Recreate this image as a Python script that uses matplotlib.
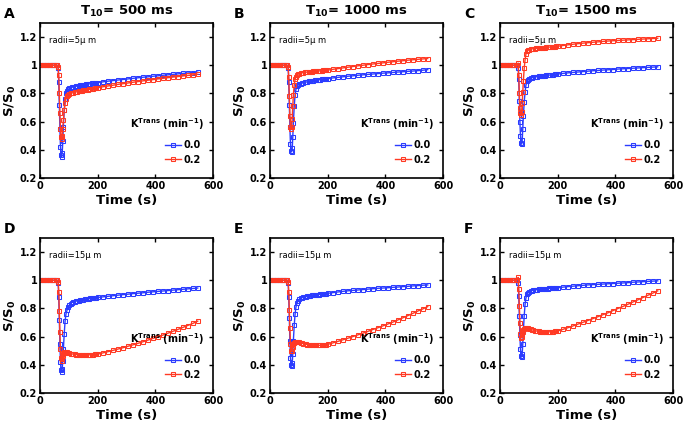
import matplotlib
matplotlib.use('Agg')
import matplotlib.pyplot as plt
from matplotlib.ticker import FuncFormatter

plt.rcParams['font.family'] = ['DejaVu Sans']
plt.rcParams['mathtext.default'] = 'bf'

# sample times (s), shared by every curve
time = [0, 5, 10, 15, 20, 25, 30, 35, 40, 45, 50, 55, 60, 63,
        65, 67, 69, 71, 73, 75, 77, 79, 81, 84, 87, 90, 94, 98, 102, 106, 110,
        115, 120, 125, 130, 135, 140, 145, 150, 155, 160, 165, 170, 175, 180, 185, 190, 195,
        200, 217, 235, 252, 269, 287, 304, 321, 339, 356, 374, 391, 408, 426, 443, 460, 478,
        495, 512, 530, 547]

# S/S0, Ktrans = 0.0 (blue) and 0.2 (red), one pair per panel
a_k00 = [1.0] * 13 + [0.98,
         0.88, 0.72, 0.55, 0.42, 0.36, 0.35, 0.38, 0.46, 0.56, 0.68, 0.76, 0.80, 0.82, 0.83, 0.836, 0.840, 0.843,
         0.846, 0.849, 0.851, 0.853, 0.855, 0.857, 0.859, 0.861, 0.863, 0.864, 0.866, 0.868, 0.869, 0.871, 0.872, 0.874, 0.875,
         0.877, 0.882, 0.887, 0.891, 0.895, 0.899, 0.903, 0.907, 0.911, 0.915, 0.918, 0.922, 0.925, 0.929, 0.932,
         0.935, 0.939, 0.942, 0.945, 0.948, 0.951]
a_k02 = [1.0] * 13 + [0.99,
         0.93, 0.80, 0.66, 0.55, 0.49, 0.48, 0.50, 0.55, 0.61, 0.68, 0.73, 0.76, 0.78, 0.79, 0.796, 0.800, 0.803,
         0.806, 0.809, 0.811, 0.813, 0.815, 0.817, 0.819, 0.821, 0.823, 0.825, 0.827, 0.829, 0.831, 0.833, 0.835, 0.837, 0.839,
         0.841, 0.847, 0.853, 0.858, 0.864, 0.869, 0.874, 0.879, 0.884, 0.889, 0.894, 0.898, 0.903, 0.907, 0.912,
         0.916, 0.920, 0.924, 0.928, 0.932, 0.936]

b_k00 = [1.0] * 13 + [0.98,
         0.88, 0.72, 0.56, 0.44, 0.39, 0.385, 0.41, 0.49, 0.59, 0.71, 0.79, 0.83, 0.85, 0.86, 0.866, 0.870, 0.873,
         0.876, 0.879, 0.881, 0.883, 0.885, 0.887, 0.889, 0.891, 0.893, 0.894, 0.896, 0.897, 0.899, 0.900, 0.901, 0.903, 0.904,
         0.905, 0.910, 0.914, 0.918, 0.922, 0.925, 0.929, 0.932, 0.935, 0.938, 0.941, 0.944, 0.946, 0.949, 0.952,
         0.954, 0.957, 0.959, 0.962, 0.965, 0.969]
b_k02 = [1.0] * 13 + [0.99,
         0.92, 0.78, 0.64, 0.56, 0.545, 0.56, 0.62, 0.71, 0.79, 0.86, 0.90, 0.92, 0.93, 0.937, 0.941, 0.944, 0.946,
         0.948, 0.950, 0.951, 0.952, 0.953, 0.954, 0.955, 0.956, 0.957, 0.958, 0.959, 0.960, 0.961, 0.962, 0.963, 0.964, 0.965,
         0.966, 0.971, 0.976, 0.981, 0.986, 0.991, 0.996, 1.000, 1.005, 1.009, 1.013, 1.017, 1.021, 1.025, 1.029,
         1.032, 1.036, 1.039, 1.042, 1.045, 1.048]

c_k00 = [1.0] * 13 + [0.98,
         0.90, 0.75, 0.60, 0.50, 0.45, 0.44, 0.47, 0.55, 0.64, 0.74, 0.81, 0.86, 0.885, 0.896, 0.903, 0.908, 0.911,
         0.914, 0.916, 0.918, 0.920, 0.921, 0.923, 0.924, 0.925, 0.927, 0.928, 0.929, 0.930, 0.932, 0.933, 0.934, 0.935, 0.936,
         0.938, 0.942, 0.946, 0.949, 0.952, 0.955, 0.958, 0.961, 0.963, 0.966, 0.968, 0.970, 0.973, 0.975, 0.977,
         0.979, 0.981, 0.983, 0.985, 0.987, 0.989]
c_k02 = [1.0] * 12 + [1.005, 1.015,
         0.93, 0.80, 0.70, 0.66, 0.65, 0.67, 0.73, 0.81, 0.89, 0.98, 1.04, 1.08, 1.10, 1.107, 1.111, 1.114, 1.116,
         1.118, 1.119, 1.120, 1.121, 1.122, 1.123, 1.124, 1.125, 1.126, 1.127, 1.128, 1.129, 1.130, 1.131, 1.132, 1.133, 1.134,
         1.135, 1.140, 1.145, 1.149, 1.153, 1.157, 1.160, 1.163, 1.166, 1.169, 1.172, 1.174, 1.176, 1.178, 1.180,
         1.182, 1.184, 1.186, 1.188, 1.190, 1.192]

d_k00 = [1.0] * 13 + [0.98,
         0.88, 0.72, 0.55, 0.42, 0.36, 0.347, 0.37, 0.43, 0.51, 0.62, 0.71, 0.76, 0.79, 0.81, 0.825, 0.835, 0.842,
         0.846, 0.849, 0.852, 0.854, 0.856, 0.858, 0.860, 0.862, 0.864, 0.866, 0.867, 0.869, 0.871, 0.872, 0.874, 0.875, 0.877,
         0.878, 0.882, 0.886, 0.890, 0.894, 0.898, 0.901, 0.905, 0.908, 0.911, 0.915, 0.918, 0.921, 0.924, 0.927,
         0.930, 0.933, 0.936, 0.939, 0.942, 0.945]
d_k02 = [1.0] * 13 + [0.99,
         0.92, 0.78, 0.63, 0.51, 0.445, 0.43, 0.44, 0.46, 0.475, 0.485, 0.49, 0.492, 0.49, 0.486, 0.483, 0.480, 0.478,
         0.476, 0.474, 0.473, 0.472, 0.471, 0.470, 0.470, 0.470, 0.470, 0.470, 0.471, 0.471, 0.472, 0.472, 0.473, 0.474, 0.475,
         0.476, 0.484, 0.493, 0.502, 0.511, 0.521, 0.531, 0.541, 0.552, 0.563, 0.575, 0.587, 0.599, 0.611, 0.624,
         0.637, 0.651, 0.665, 0.679, 0.694, 0.710]

e_k00 = [1.0] * 13 + [0.98,
         0.88, 0.73, 0.57, 0.45, 0.40, 0.39, 0.41, 0.48, 0.57, 0.68, 0.76, 0.81, 0.84, 0.856, 0.866, 0.872, 0.876,
         0.879, 0.882, 0.884, 0.886, 0.888, 0.890, 0.892, 0.893, 0.895, 0.896, 0.898, 0.899, 0.900, 0.902, 0.903, 0.904, 0.906,
         0.907, 0.912, 0.917, 0.921, 0.925, 0.928, 0.931, 0.934, 0.937, 0.940, 0.943, 0.945, 0.947, 0.950, 0.952,
         0.955, 0.957, 0.960, 0.962, 0.965, 0.967]
e_k02 = [1.0] * 13 + [0.99,
         0.92, 0.79, 0.66, 0.55, 0.50, 0.495, 0.51, 0.53, 0.545, 0.555, 0.562, 0.565, 0.565, 0.563, 0.560, 0.557, 0.554,
         0.551, 0.548, 0.546, 0.544, 0.542, 0.541, 0.540, 0.539, 0.538, 0.538, 0.538, 0.538, 0.539, 0.540, 0.541, 0.542, 0.543,
         0.545, 0.555, 0.566, 0.577, 0.588, 0.600, 0.612, 0.624, 0.637, 0.650, 0.663, 0.676, 0.689, 0.703, 0.718,
         0.733, 0.749, 0.765, 0.781, 0.797, 0.813]

f_k00 = [1.0] * 13 + [0.98,
         0.89, 0.75, 0.61, 0.51, 0.465, 0.455, 0.48, 0.55, 0.64, 0.75, 0.83, 0.875, 0.90, 0.912, 0.919, 0.924, 0.927,
         0.929, 0.931, 0.933, 0.934, 0.935, 0.936, 0.937, 0.938, 0.939, 0.940, 0.941, 0.942, 0.943, 0.944, 0.944, 0.945, 0.946,
         0.947, 0.951, 0.955, 0.958, 0.961, 0.964, 0.967, 0.969, 0.971, 0.973, 0.975, 0.977, 0.979, 0.981, 0.983,
         0.986, 0.988, 0.990, 0.992, 0.994, 0.996]
f_k02 = [1.0] * 12 + [1.005, 1.02,
         0.94, 0.82, 0.70, 0.62, 0.59, 0.595, 0.61, 0.63, 0.645, 0.655, 0.66, 0.662, 0.661, 0.658, 0.655, 0.652, 0.649,
         0.646, 0.643, 0.641, 0.639, 0.637, 0.636, 0.635, 0.634, 0.634, 0.634, 0.634, 0.634, 0.635, 0.635, 0.636, 0.637, 0.638,
         0.640, 0.651, 0.663, 0.675, 0.688, 0.701, 0.714, 0.727, 0.741, 0.755, 0.769, 0.784, 0.799, 0.814, 0.829,
         0.845, 0.861, 0.877, 0.893, 0.909, 0.925]

panel_letters = ['A', 'B', 'C', 'D', 'E', 'F']
t10_titles = ['T$_{10}$= 500 ms', 'T$_{10}$= 1000 ms', 'T$_{10}$= 1500 ms']
radii_labels = ['radii=5\u03bc m'] * 3 + ['radii=15\u03bc m'] * 3
k_labels = ['0.0', '0.2']
series = [(a_k00, a_k02), (b_k00, b_k02), (c_k00, c_k02),
          (d_k00, d_k02), (e_k00, e_k02), (f_k00, f_k02)]

blue = '#2b3cff'
red = '#ff3a24'

W, H = 686, 425
fig = plt.figure(figsize=(W / 100, H / 100), dpi=100)

lefts = [40, 270, 500]
tops = [23, 238]
ax_w, ax_h = 173, 155

for i, (k0, k2) in enumerate(series):
    row, col = divmod(i, 3)
    ax = fig.add_axes([lefts[col] / W, 1 - (tops[row] + ax_h) / H, ax_w / W, ax_h / H])
    for vals, c, lab in [(k0, blue, k_labels[0]), (k2, red, k_labels[1])]:
        ax.plot(time, vals, color=c, lw=1.0, marker='s', ms=2.8, mfc='none',
                mec=c, mew=0.75, label=lab)
    ax.set_xlim(0, 600)
    ax.set_ylim(0.2, 1.3)
    ax.set_xticks([0, 200, 400, 600])
    ax.set_yticks([0.2, 0.4, 0.6, 0.8, 1.0, 1.2])
    ax.yaxis.set_major_formatter(FuncFormatter(lambda v, p: '%g' % round(v, 2)))
    ax.tick_params(direction='in', top=True, right=True, length=3, width=1.0,
                   labelsize=7, pad=2)
    for lbl in ax.get_xticklabels() + ax.get_yticklabels():
        lbl.set_fontweight('bold')
    for sp in ax.spines.values():
        sp.set_linewidth(1.2)
    ax.set_xlabel('Time (s)', fontsize=9.5, fontweight='bold', labelpad=2)
    ax.set_ylabel('S/S$_0$', fontsize=9.5, fontweight='bold', labelpad=1)
    ax.text(0.05, 0.89, radii_labels[i], transform=ax.transAxes, fontsize=6,
            va='center', ha='left')
    ax.text(0.52, 0.345, 'K$^{Trans}$ (min$^{-1}$)', transform=ax.transAxes,
            fontsize=7, fontweight='bold', va='center', ha='left')
    ax.legend(loc='lower right', bbox_to_anchor=(0.95, 0.06), frameon=False,
              prop={'weight': 'bold', 'size': 7}, handlelength=1.7,
              handletextpad=0.2, labelspacing=0.45, borderaxespad=0)
    # panel letter
    fig.text((lefts[col] - 36) / W, 1 - (tops[row] - 9) / H, panel_letters[i],
             fontsize=10, fontweight='bold', va='center', ha='left')
    if row == 0:
        fig.text((lefts[col] + ax_w / 2) / W, 1 - 11 / H, t10_titles[col],
                 fontsize=9.5, fontweight='bold', va='center', ha='center')

fig.savefig('out.png', dpi=100)
